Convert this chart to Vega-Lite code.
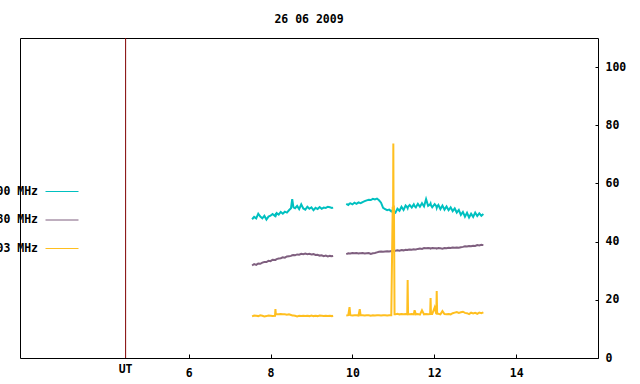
{
 "$schema": "https://vega.github.io/schema/vega-lite/v6.json",
 "width": 578,
 "height": 320,
 "autosize": {"type": "none"},
 "padding": {"left": 20, "top": 38, "right": 42, "bottom": 26},
 "background": "white",
 "config": {
  "view": {"stroke": "black", "strokeWidth": 1},
  "axis": {"labelFont": "DejaVu Sans Mono", "labelFontSize": 11.5, "labelFontWeight": "bold", "labelColor": "black", "grid": false, "domain": false, "tickColor": "black", "tickWidth": 1}
 },
 "title": {"text": "26 06 2009", "font": "DejaVu Sans Mono", "fontSize": 11.5, "fontWeight": "bold", "color": "black", "anchor": "middle", "baseline": "alphabetic", "offset": 3},
 "datasets": {
  "marks": [{"t": 4.46, "label": "UT"}],
  "series": [
   {"g":1,"t":7.55,"a":47.7,"b":31.8,"c":14.3},
   {"g":1,"t":7.6,"a":48.5,"b":32.3,"c":14.6},
   {"g":1,"t":7.65,"a":48.0,"b":32.0,"c":14.5},
   {"g":1,"t":7.7,"a":49.6,"b":32.5,"c":14.4},
   {"g":1,"t":7.75,"a":48.6,"b":32.4,"c":14.7},
   {"g":1,"t":7.8,"a":48.0,"b":32.8,"c":14.5},
   {"g":1,"t":7.85,"a":48.9,"b":33.0,"c":14.3},
   {"g":1,"t":7.9,"a":47.6,"b":33.0,"c":14.4},
   {"g":1,"t":7.95,"a":48.6,"b":33.4,"c":14.6},
   {"g":1,"t":8.0,"a":48.9,"b":33.3,"c":14.5},
   {"g":1,"t":8.05,"a":49.5,"b":33.8,"c":14.4},
   {"g":1,"t":8.11,"a":48.8,"b":33.7,"c":14.5},
   {"g":1,"t":8.12,"a":49.2,"b":33.7,"c":16.8},
   {"g":1,"t":8.13,"a":49.0,"b":33.8,"c":15.0},
   {"g":1,"t":8.15,"a":49.8,"b":34.0,"c":15.0},
   {"g":1,"t":8.2,"a":49.3,"b":34.2,"c":15.0},
   {"g":1,"t":8.25,"a":50.2,"b":34.3,"c":15.1},
   {"g":1,"t":8.3,"a":49.6,"b":34.6,"c":15.0},
   {"g":1,"t":8.35,"a":50.3,"b":34.5,"c":15.0},
   {"g":1,"t":8.4,"a":50.0,"b":34.9,"c":14.9},
   {"g":1,"t":8.45,"a":50.8,"b":35.0,"c":15.0},
   {"g":1,"t":8.5,"a":51.5,"b":35.1,"c":14.8},
   {"g":1,"t":8.53,"a":54.6,"b":35.3,"c":14.6},
   {"g":1,"t":8.56,"a":51.8,"b":35.4,"c":14.6},
   {"g":1,"t":8.6,"a":51.5,"b":35.3,"c":14.5},
   {"g":1,"t":8.65,"a":52.3,"b":35.6,"c":14.3},
   {"g":1,"t":8.7,"a":51.2,"b":35.5,"c":14.5},
   {"g":1,"t":8.75,"a":52.8,"b":35.8,"c":14.4},
   {"g":1,"t":8.8,"a":51.4,"b":35.7,"c":14.5},
   {"g":1,"t":8.85,"a":51.0,"b":35.9,"c":14.4},
   {"g":1,"t":8.9,"a":52.0,"b":35.7,"c":14.5},
   {"g":1,"t":8.95,"a":51.3,"b":35.8,"c":14.4},
   {"g":1,"t":9.0,"a":51.8,"b":35.6,"c":14.6},
   {"g":1,"t":9.05,"a":50.8,"b":35.7,"c":14.4},
   {"g":1,"t":9.1,"a":51.6,"b":35.4,"c":14.5},
   {"g":1,"t":9.15,"a":51.2,"b":35.5,"c":14.4},
   {"g":1,"t":9.2,"a":51.9,"b":35.2,"c":14.6},
   {"g":1,"t":9.25,"a":51.3,"b":35.3,"c":14.5},
   {"g":1,"t":9.3,"a":51.7,"b":35.0,"c":14.4},
   {"g":1,"t":9.35,"a":51.6,"b":35.2,"c":14.5},
   {"g":1,"t":9.4,"a":52.0,"b":34.9,"c":14.4},
   {"g":1,"t":9.45,"a":51.8,"b":35.1,"c":14.5},
   {"g":1,"t":9.5,"a":51.6,"b":35.0,"c":14.4},
   {"g":1,"t":9.53,"a":51.7,"b":35.1,"c":14.5},
   {"g":2,"t":9.85,"a":53.0,"b":35.7,"c":14.6},
   {"g":2,"t":9.9,"a":52.6,"b":36.0,"c":14.7},
   {"g":2,"t":9.93,"a":53.1,"b":35.9,"c":17.5},
   {"g":2,"t":9.95,"a":53.2,"b":35.9,"c":14.7},
   {"g":2,"t":10.0,"a":52.8,"b":36.1,"c":14.6},
   {"g":2,"t":10.05,"a":53.4,"b":36.0,"c":14.7},
   {"g":2,"t":10.1,"a":53.0,"b":36.1,"c":14.7},
   {"g":2,"t":10.15,"a":53.5,"b":35.9,"c":14.6},
   {"g":2,"t":10.18,"a":53.3,"b":36.0,"c":16.8},
   {"g":2,"t":10.2,"a":53.2,"b":36.0,"c":14.7},
   {"g":2,"t":10.25,"a":53.6,"b":36.1,"c":14.7},
   {"g":2,"t":10.3,"a":53.9,"b":35.9,"c":14.6},
   {"g":2,"t":10.35,"a":54.2,"b":36.0,"c":14.7},
   {"g":2,"t":10.4,"a":54.4,"b":36.1,"c":14.7},
   {"g":2,"t":10.45,"a":54.3,"b":35.8,"c":14.5},
   {"g":2,"t":10.5,"a":54.7,"b":36.0,"c":14.7},
   {"g":2,"t":10.55,"a":54.5,"b":36.1,"c":14.6},
   {"g":2,"t":10.6,"a":54.8,"b":36.3,"c":14.7},
   {"g":2,"t":10.65,"a":54.2,"b":36.5,"c":14.7},
   {"g":2,"t":10.7,"a":53.4,"b":36.6,"c":14.6},
   {"g":2,"t":10.75,"a":51.6,"b":36.5,"c":14.7},
   {"g":2,"t":10.8,"a":51.2,"b":36.6,"c":14.7},
   {"g":2,"t":10.85,"a":50.8,"b":36.7,"c":14.6},
   {"g":2,"t":10.9,"a":51.0,"b":36.6,"c":14.7},
   {"g":2,"t":10.95,"a":50.4,"b":36.8,"c":14.7},
   {"g":2,"t":10.985,"a":50.9,"b":36.7,"c":52.0},
   {"g":2,"t":10.995,"a":50.2,"b":36.7,"c":50.5},
   {"g":2,"t":11.0,"a":50.6,"b":36.7,"c":73.7},
   {"g":2,"t":11.005,"a":50.3,"b":36.8,"c":51.5},
   {"g":2,"t":11.015,"a":50.8,"b":36.8,"c":52.4},
   {"g":2,"t":11.03,"a":50.0,"b":36.8,"c":15.0},
   {"g":2,"t":11.05,"a":49.9,"b":36.9,"c":15.0},
   {"g":2,"t":11.1,"a":51.3,"b":37.0,"c":15.2},
   {"g":2,"t":11.15,"a":50.6,"b":36.9,"c":15.0},
   {"g":2,"t":11.2,"a":52.0,"b":37.1,"c":15.1},
   {"g":2,"t":11.25,"a":50.9,"b":37.0,"c":15.0},
   {"g":2,"t":11.3,"a":52.4,"b":37.2,"c":15.1},
   {"g":2,"t":11.34,"a":51.8,"b":37.1,"c":15.0},
   {"g":2,"t":11.35,"a":51.5,"b":37.1,"c":26.8},
   {"g":2,"t":11.36,"a":52.0,"b":37.2,"c":15.0},
   {"g":2,"t":11.4,"a":52.6,"b":37.3,"c":15.0},
   {"g":2,"t":11.45,"a":51.7,"b":37.2,"c":15.1},
   {"g":2,"t":11.5,"a":52.8,"b":37.4,"c":15.0},
   {"g":2,"t":11.52,"a":52.2,"b":37.3,"c":16.4},
   {"g":2,"t":11.55,"a":51.8,"b":37.3,"c":15.0},
   {"g":2,"t":11.6,"a":53.0,"b":37.5,"c":15.1},
   {"g":2,"t":11.65,"a":52.0,"b":37.6,"c":14.9},
   {"g":2,"t":11.7,"a":53.2,"b":37.5,"c":16.4},
   {"g":2,"t":11.75,"a":52.1,"b":37.8,"c":15.0},
   {"g":2,"t":11.8,"a":54.6,"b":37.7,"c":15.1},
   {"g":2,"t":11.85,"a":52.3,"b":37.8,"c":15.0},
   {"g":2,"t":11.9,"a":52.8,"b":37.7,"c":15.1},
   {"g":2,"t":11.91,"a":53.1,"b":37.6,"c":20.6},
   {"g":2,"t":11.92,"a":52.5,"b":37.7,"c":15.1},
   {"g":2,"t":11.95,"a":51.8,"b":37.8,"c":15.1},
   {"g":2,"t":12.01,"a":52.9,"b":37.7,"c":17.4},
   {"g":2,"t":12.05,"a":52.2,"b":37.7,"c":15.1},
   {"g":2,"t":12.06,"a":51.6,"b":37.6,"c":23.0},
   {"g":2,"t":12.07,"a":52.0,"b":37.7,"c":15.2},
   {"g":2,"t":12.1,"a":52.6,"b":37.8,"c":15.2},
   {"g":2,"t":12.15,"a":51.2,"b":37.7,"c":15.0},
   {"g":2,"t":12.2,"a":52.4,"b":37.6,"c":16.1},
   {"g":2,"t":12.25,"a":51.0,"b":37.8,"c":15.1},
   {"g":2,"t":12.3,"a":52.1,"b":37.7,"c":15.0},
   {"g":2,"t":12.35,"a":50.8,"b":37.9,"c":15.1},
   {"g":2,"t":12.4,"a":51.8,"b":37.8,"c":15.0},
   {"g":2,"t":12.45,"a":50.5,"b":38.0,"c":15.4},
   {"g":2,"t":12.5,"a":51.4,"b":37.9,"c":15.6},
   {"g":2,"t":12.55,"a":50.0,"b":38.0,"c":15.8},
   {"g":2,"t":12.6,"a":50.9,"b":37.9,"c":15.5},
   {"g":2,"t":12.65,"a":49.2,"b":38.1,"c":15.7},
   {"g":2,"t":12.7,"a":50.2,"b":38.2,"c":15.9},
   {"g":2,"t":12.75,"a":48.6,"b":38.4,"c":15.5},
   {"g":2,"t":12.8,"a":49.9,"b":38.3,"c":15.4},
   {"g":2,"t":12.85,"a":48.3,"b":38.5,"c":15.1},
   {"g":2,"t":12.9,"a":49.6,"b":38.4,"c":15.6},
   {"g":2,"t":12.95,"a":48.5,"b":38.6,"c":15.3},
   {"g":2,"t":13.0,"a":50.0,"b":38.5,"c":15.5},
   {"g":2,"t":13.05,"a":48.8,"b":38.8,"c":15.2},
   {"g":2,"t":13.1,"a":49.7,"b":38.7,"c":15.6},
   {"g":2,"t":13.15,"a":48.9,"b":38.9,"c":15.4},
   {"g":2,"t":13.2,"a":49.5,"b":38.8,"c":15.7}
  ]
 },
 "encoding": {
  "x": {"field": "t", "type": "quantitative", "title": null,
        "scale": {"domain": [1.88, 16], "nice": false, "zero": false},
        "axis": {"values": [6, 8, 10, 12, 14], "tickSize": -4, "labelPadding": 13, "labelFlush": false}}
 },
 "layer": [
  {
   "data": {"name": "series"},
   "transform": [{"fold": ["a", "b", "c"], "as": ["k", "v"]}],
   "mark": {"type": "line", "strokeWidth": 2},
   "encoding": {
    "y": {"field": "v", "type": "quantitative", "title": null,
          "scale": {"domain": [0, 110], "nice": false, "zero": true},
          "axis": {"orient": "right", "values": [0, 20, 40, 60, 80, 100], "tickSize": -3, "labelPadding": 10, "labelFlush": false}},
    "color": {"field": "k", "type": "nominal",
              "scale": {"domain": ["a", "b", "c"], "range": ["#00c0c0", "#7f5f7f", "#ffbf1f"]},
              "legend": {"title": null, "orient": "none", "legendX": 25, "legendY": 136.5, "padding": 0,
                         "symbolType": "stroke", "symbolSize": 1089, "symbolStrokeWidth": 1,
                         "labelAlign": "right", "labelOffset": -41, "rowPadding": 5.5,
                         "labelFont": "DejaVu Sans Mono", "labelFontSize": 11.5, "labelFontWeight": "bold", "labelColor": "black",
                         "labelExpr": "datum.value == 'a' ? '1000 MHz' : datum.value == 'b' ? '1480 MHz' : '2703 MHz'"}},
    "detail": {"field": "g", "type": "nominal"}
   }
  },
  {
   "data": {"name": "marks"},
   "mark": {"type": "rule", "color": "#800000", "strokeWidth": 1},
   "encoding": {}
  },
  {
   "data": {"name": "marks"},
   "mark": {"type": "text", "baseline": "top", "dy": 6, "font": "DejaVu Sans Mono", "fontSize": 11.5, "fontWeight": "bold", "color": "black"},
   "encoding": {
    "y": {"datum": 0, "type": "quantitative", "title": null,
          "axis": {"orient": "right", "values": [0, 20, 40, 60, 80, 100], "tickSize": -3, "labelPadding": 10, "labelFlush": false}},
    "text": {"field": "label"}
   }
  }
 ]
}
